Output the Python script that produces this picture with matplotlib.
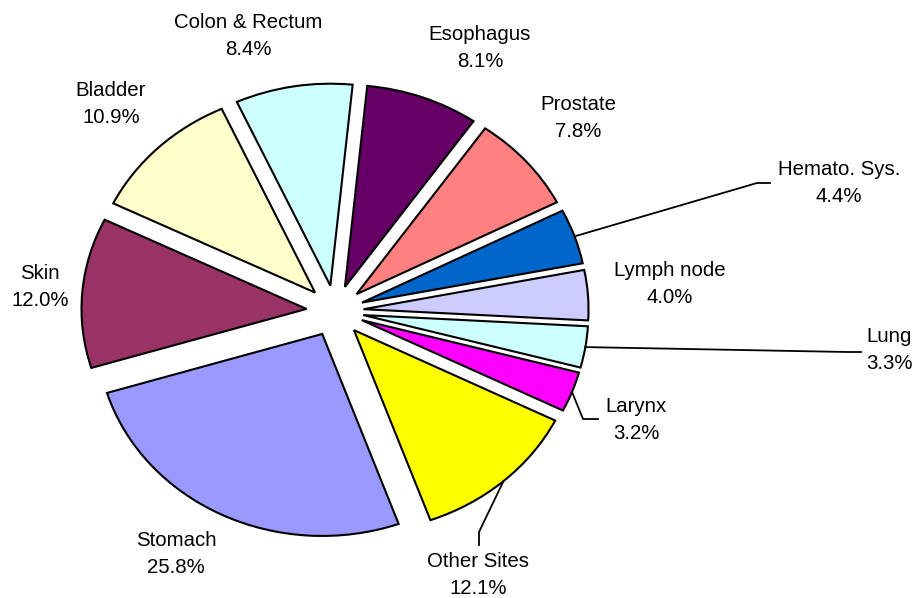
import matplotlib
matplotlib.use("Agg")
import matplotlib.pyplot as plt
import numpy as np

# slices in drawing order (clockwise from the top)
sites = ["Esophagus", "Prostate", "Hemato. Sys.", "Lymph node", "Lung", "Larynx",
         "Other Sites", "Stomach", "Skin", "Bladder", "Colon & Rectum"]
shares = [8.1, 7.8, 4.4, 4.0, 3.3, 3.2, 12.1, 25.8, 12.0, 10.9, 8.4]
colors = ["#660066", "#FF8080", "#0066CC", "#CCCCFF", "#CCFFFF", "#FF00FF",
          "#FFFF00", "#9999FF", "#993366", "#FFFFCC", "#CCFFFF"]

W, H = 918, 598
CX, CY = 335, 311      # pie centre in pixels (from top-left)
RX, RY = 225, 202      # the pie is slightly squashed vertically

# label block centres in pixels
label_pos = {
    "Esophagus": (480, 48), "Prostate": (578, 118), "Hemato. Sys.": (839, 183),
    "Lymph node": (670, 284), "Lung": (889, 350), "Larynx": (636, 420),
    "Other Sites": (478, 575), "Stomach": (176, 554), "Skin": (40, 287),
    "Bladder": (111, 104), "Colon & Rectum": (248, 36),
}
# leader lines: knee and end point in pixels
leaders = {
    "Hemato. Sys.": ((757, 183), (770, 183)),
    "Lung": ((847, 352), (861, 352)),
    "Larynx": ((583, 419), (598, 419)),
    "Other Sites": ((479, 532), (479, 545)),
}


def to_data(x, y):
    return (x - CX) / RX, (CY - y) / RY


plt.rcParams["font.family"] = ["Liberation Sans", "DejaVu Sans"]
fig = plt.figure(figsize=(W / 100, H / 100), dpi=100)
ax = fig.add_axes([0, 0, 1, 1])
wedges, _ = ax.pie(shares, colors=colors, startangle=84.3, counterclock=False,
                   explode=[0.127] * len(shares), radius=1,
                   wedgeprops=dict(edgecolor="black", linewidth=1.5))
ax.set_aspect("auto")
ax.set_xlim(-CX / RX, (W - CX) / RX)
ax.set_ylim(-(H - CY) / RY, CY / RY)
ax.axis("off")

for w, name, v in zip(wedges, sites, shares):
    lx, ly = to_data(*label_pos[name])
    ax.text(lx, ly, f"{name}\n{v:.1f}%", ha="center", va="center",
            fontsize=14.7, linespacing=1.55, color="black")
    if name in leaders:
        mid = np.deg2rad((w.theta1 + w.theta2) / 2)
        sx = w.center[0] + w.r * np.cos(mid)
        sy = w.center[1] + w.r * np.sin(mid)
        (kx, ky), (ex, ey) = [to_data(*p) for p in leaders[name]]
        ax.plot([sx, kx, ex], [sy, ky, ey], color="black", linewidth=1.3)

fig.savefig("out.png", dpi=100)
